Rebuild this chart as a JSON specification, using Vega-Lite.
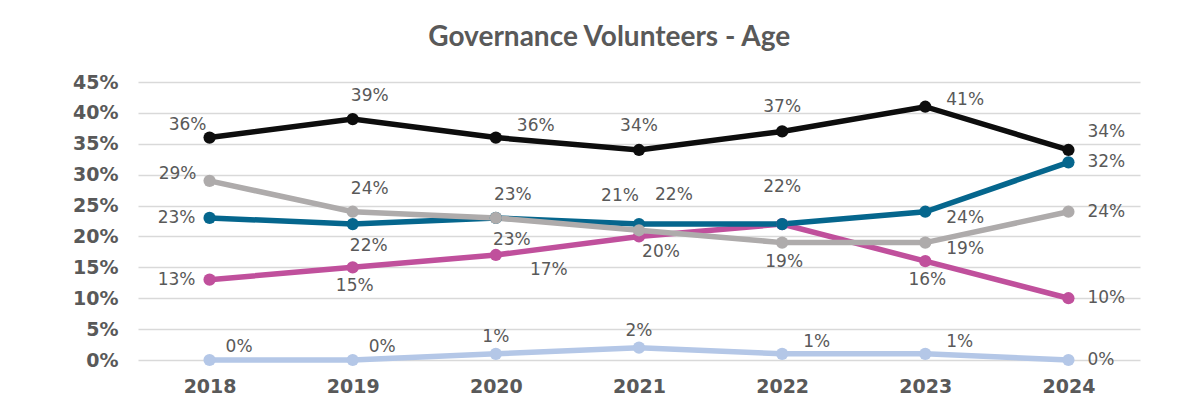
{
  "$schema": "https://vega.github.io/schema/vega-lite/v6.json",
  "autosize": {"type": "none"},
  "width": 1002,
  "height": 278,
  "padding": {"left": 138, "top": 82, "right": 48, "bottom": 56},
  "background": "white",
  "title": {
    "text": "Governance Volunteers - Age",
    "font": "Lato",
    "fontSize": 28,
    "fontWeight": "bold",
    "color": "#595959",
    "anchor": "middle",
    "frame": "bounds",
    "dx": 3,
    "offset": 21
  },
  "config": {
    "view": {"stroke": null},
    "axis": {"domain": false, "ticks": false}
  },
  "data": {
    "values": [
      {"series": "S1", "year": "2018", "value": 0.13},
      {"series": "S1", "year": "2019", "value": 0.15},
      {"series": "S1", "year": "2020", "value": 0.17},
      {"series": "S1", "year": "2021", "value": 0.20},
      {"series": "S1", "year": "2022", "value": 0.22},
      {"series": "S1", "year": "2023", "value": 0.16},
      {"series": "S1", "year": "2024", "value": 0.10},
      {"series": "S2", "year": "2018", "value": 0.23},
      {"series": "S2", "year": "2019", "value": 0.22},
      {"series": "S2", "year": "2020", "value": 0.23},
      {"series": "S2", "year": "2021", "value": 0.22},
      {"series": "S2", "year": "2022", "value": 0.22},
      {"series": "S2", "year": "2023", "value": 0.24},
      {"series": "S2", "year": "2024", "value": 0.32},
      {"series": "S3", "year": "2018", "value": 0.29},
      {"series": "S3", "year": "2019", "value": 0.24},
      {"series": "S3", "year": "2020", "value": 0.23},
      {"series": "S3", "year": "2021", "value": 0.21},
      {"series": "S3", "year": "2022", "value": 0.19},
      {"series": "S3", "year": "2023", "value": 0.19},
      {"series": "S3", "year": "2024", "value": 0.24},
      {"series": "S4", "year": "2018", "value": 0.36},
      {"series": "S4", "year": "2019", "value": 0.39},
      {"series": "S4", "year": "2020", "value": 0.36},
      {"series": "S4", "year": "2021", "value": 0.34},
      {"series": "S4", "year": "2022", "value": 0.37},
      {"series": "S4", "year": "2023", "value": 0.41},
      {"series": "S4", "year": "2024", "value": 0.34},
      {"series": "S5", "year": "2018", "value": 0.00},
      {"series": "S5", "year": "2019", "value": 0.00},
      {"series": "S5", "year": "2020", "value": 0.01},
      {"series": "S5", "year": "2021", "value": 0.02},
      {"series": "S5", "year": "2022", "value": 0.01},
      {"series": "S5", "year": "2023", "value": 0.01},
      {"series": "S5", "year": "2024", "value": 0.00}
    ]
  },
  "encoding": {
    "x": {
      "field": "year", "type": "ordinal",
      "scale": {"type": "point", "padding": 0.5},
      "axis": {"title": null, "labelAngle": 0, "grid": false, "labelFont": "DejaVu Sans", "labelFontSize": 19, "labelFontWeight": "bold", "labelColor": "#595959", "labelPadding": 17}
    },
    "y": {
      "field": "value", "type": "quantitative",
      "scale": {"domain": [0, 0.45], "nice": false},
      "axis": {"title": null, "format": ".0%", "values": [0, 0.05, 0.1, 0.15, 0.2, 0.25, 0.3, 0.35, 0.4, 0.45], "grid": true, "gridColor": "#d9d9d9", "gridWidth": 1.5, "labelFont": "DejaVu Sans", "labelFontSize": 19, "labelFontWeight": "bold", "labelColor": "#595959", "labelPadding": 20}
    }
  },
  "layer": [
    {
      "mark": {"type": "line", "strokeWidth": 5.5, "point": {"filled": true, "size": 150, "opacity": 1}},
      "encoding": {
        "color": {
          "field": "series", "type": "nominal", "legend": null,
          "scale": {"domain": ["S1", "S2", "S3", "S4", "S5"], "range": ["#c0509c", "#05668d", "#aeabab", "#0d0d0d", "#b4c7e7"]}
        }
      }
    },
    {"transform": [{"filter": "indexof(['S4|2021','S4|2022'], datum.series+'|'+datum.year) >= 0"}],
     "mark": {"type": "text", "font": "DejaVu Sans", "fontSize": 17, "color": "#595959", "align": "center", "baseline": "middle", "dx": 0, "dy": -24},
     "encoding": {"text": {"field": "value", "type": "quantitative", "format": ".0%"}}},
    {"transform": [{"filter": "indexof(['S5|2020','S5|2021'], datum.series+'|'+datum.year) >= 0"}],
     "mark": {"type": "text", "font": "DejaVu Sans", "fontSize": 17, "color": "#595959", "align": "center", "baseline": "middle", "dx": 0, "dy": -17},
     "encoding": {"text": {"field": "value", "type": "quantitative", "format": ".0%"}}},
    {"transform": [{"filter": "indexof(['S3|2022','S1|2023','S1|2019'], datum.series+'|'+datum.year) >= 0"}],
     "mark": {"type": "text", "font": "DejaVu Sans", "fontSize": 17, "color": "#595959", "align": "center", "baseline": "middle", "dx": 2, "dy": 19},
     "encoding": {"text": {"field": "value", "type": "quantitative", "format": ".0%"}}},
    {"transform": [{"filter": "indexof(['S2|2018','S1|2018'], datum.series+'|'+datum.year) >= 0"}],
     "mark": {"type": "text", "font": "DejaVu Sans", "fontSize": 17, "color": "#595959", "align": "center", "baseline": "middle", "dx": -33, "dy": 0},
     "encoding": {"text": {"field": "value", "type": "quantitative", "format": ".0%"}}},
    {"transform": [{"filter": "indexof(['S3|2018'], datum.series+'|'+datum.year) >= 0"}],
     "mark": {"type": "text", "font": "DejaVu Sans", "fontSize": 17, "color": "#595959", "align": "center", "baseline": "middle", "dx": -32, "dy": -7},
     "encoding": {"text": {"field": "value", "type": "quantitative", "format": ".0%"}}},
    {"transform": [{"filter": "indexof(['S4|2018'], datum.series+'|'+datum.year) >= 0"}],
     "mark": {"type": "text", "font": "DejaVu Sans", "fontSize": 17, "color": "#595959", "align": "center", "baseline": "middle", "dx": -22, "dy": -13},
     "encoding": {"text": {"field": "value", "type": "quantitative", "format": ".0%"}}},
    {"transform": [{"filter": "indexof(['S2|2024','S3|2024','S1|2024','S5|2024'], datum.series+'|'+datum.year) >= 0"}],
     "mark": {"type": "text", "font": "DejaVu Sans", "fontSize": 17, "color": "#595959", "align": "left", "baseline": "middle", "dx": 19, "dy": 0},
     "encoding": {"text": {"field": "value", "type": "quantitative", "format": ".0%"}}},
    {"transform": [{"filter": "indexof(['S2|2023','S3|2023'], datum.series+'|'+datum.year) >= 0"}],
     "mark": {"type": "text", "font": "DejaVu Sans", "fontSize": 17, "color": "#595959", "align": "left", "baseline": "middle", "dx": 21, "dy": 6},
     "encoding": {"text": {"field": "value", "type": "quantitative", "format": ".0%"}}},
    {"transform": [{"filter": "indexof(['S4|2020','S5|2022','S5|2023'], datum.series+'|'+datum.year) >= 0"}],
     "mark": {"type": "text", "font": "DejaVu Sans", "fontSize": 17, "color": "#595959", "align": "left", "baseline": "middle", "dx": 21, "dy": -12},
     "encoding": {"text": {"field": "value", "type": "quantitative", "format": ".0%"}}},
    {"transform": [{"filter": "indexof(['S5|2018','S5|2019'], datum.series+'|'+datum.year) >= 0"}],
     "mark": {"type": "text", "font": "DejaVu Sans", "fontSize": 17, "color": "#595959", "align": "left", "baseline": "middle", "dx": 16, "dy": -13},
     "encoding": {"text": {"field": "value", "type": "quantitative", "format": ".0%"}}},
    {"transform": [{"filter": "indexof(['S4|2023'], datum.series+'|'+datum.year) >= 0"}],
     "mark": {"type": "text", "font": "DejaVu Sans", "fontSize": 17, "color": "#595959", "align": "left", "baseline": "middle", "dx": 21, "dy": -7},
     "encoding": {"text": {"field": "value", "type": "quantitative", "format": ".0%"}}},
    {"transform": [{"filter": "indexof(['S4|2019','S3|2019','S3|2020'], datum.series+'|'+datum.year) >= 0"}],
     "mark": {"type": "text", "font": "DejaVu Sans", "fontSize": 17, "color": "#595959", "align": "center", "baseline": "middle", "dx": 17, "dy": -23},
     "encoding": {"text": {"field": "value", "type": "quantitative", "format": ".0%"}}},
    {"transform": [{"filter": "indexof(['S2|2019','S2|2020'], datum.series+'|'+datum.year) >= 0"}],
     "mark": {"type": "text", "font": "DejaVu Sans", "fontSize": 17, "color": "#595959", "align": "center", "baseline": "middle", "dx": 16, "dy": 22},
     "encoding": {"text": {"field": "value", "type": "quantitative", "format": ".0%"}}},
    {"transform": [{"filter": "indexof(['S1|2021'], datum.series+'|'+datum.year) >= 0"}],
     "mark": {"type": "text", "font": "DejaVu Sans", "fontSize": 17, "color": "#595959", "align": "center", "baseline": "middle", "dx": 22, "dy": 16},
     "encoding": {"text": {"field": "value", "type": "quantitative", "format": ".0%"}}},
    {"transform": [{"filter": "indexof(['S1|2020'], datum.series+'|'+datum.year) >= 0"}],
     "mark": {"type": "text", "font": "DejaVu Sans", "fontSize": 17, "color": "#595959", "align": "center", "baseline": "middle", "dx": 53, "dy": 15},
     "encoding": {"text": {"field": "value", "type": "quantitative", "format": ".0%"}}},
    {"transform": [{"filter": "indexof(['S4|2024'], datum.series+'|'+datum.year) >= 0"}],
     "mark": {"type": "text", "font": "DejaVu Sans", "fontSize": 17, "color": "#595959", "align": "left", "baseline": "middle", "dx": 19, "dy": -18},
     "encoding": {"text": {"field": "value", "type": "quantitative", "format": ".0%"}}},
    {"transform": [{"filter": "indexof(['S2|2021'], datum.series+'|'+datum.year) >= 0"}],
     "mark": {"type": "text", "font": "DejaVu Sans", "fontSize": 17, "color": "#595959", "align": "left", "baseline": "middle", "dx": 16, "dy": -29},
     "encoding": {"text": {"field": "value", "type": "quantitative", "format": ".0%"}}},
    {"transform": [{"filter": "indexof(['S3|2021'], datum.series+'|'+datum.year) >= 0"}],
     "mark": {"type": "text", "font": "DejaVu Sans", "fontSize": 17, "color": "#595959", "align": "center", "baseline": "middle", "dx": -19, "dy": -34},
     "encoding": {"text": {"field": "value", "type": "quantitative", "format": ".0%"}}},
    {"transform": [{"filter": "indexof(['S1|2022'], datum.series+'|'+datum.year) >= 0"}],
     "mark": {"type": "text", "font": "DejaVu Sans", "fontSize": 17, "color": "#595959", "align": "center", "baseline": "middle", "dx": 0, "dy": -37},
     "encoding": {"text": {"field": "value", "type": "quantitative", "format": ".0%"}}}
  ]
}
